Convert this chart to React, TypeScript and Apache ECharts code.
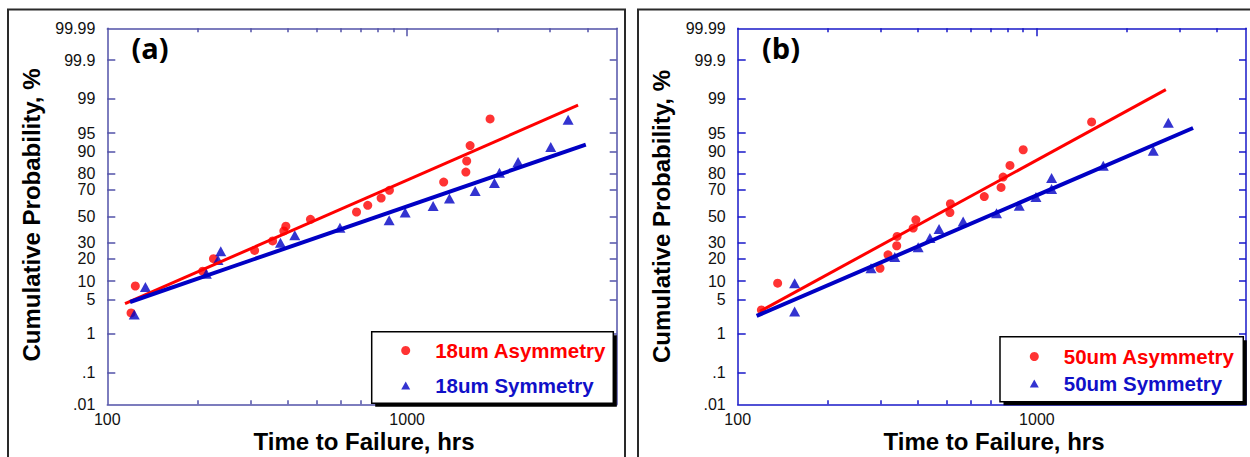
import { useEffect, useRef } from 'react';
import * as echarts from 'echarts';

// ---------- data ----------
const xRange = [100, 5000];
const xMinorTicks = [200, 300, 400, 500, 600, 700, 800, 900, 2000, 3000, 4000];
const xMajorTicks = [1000];
const xTickLabels = [100, 1000];
const yTickValues = [0.01, 0.1, 1, 5, 10, 20, 30, 50, 70, 80, 90, 95, 99, 99.9, 99.99];
const yTickLabels = ['.01', '.1', '1', '5', '10', '20', '30', '50', '70', '80', '90', '95', '99', '99.9', '99.99'];

// panel (a)
const a18AsymTime = [120, 124, 208, 226, 310, 356, 388, 394, 476, 678, 739, 819, 873, 1324, 1570, 1580, 1622, 1891];
const a18AsymProb = [2.8, 8.4, 13.9, 20.1, 25.0, 31.3, 38.6, 42.2, 47.6, 53.4, 58.6, 64.1, 69.6, 75.1, 80.9, 86.3, 91.9, 97.3];
const a18SymTime = [123, 134, 214, 234, 239, 378, 422, 597, 871, 985, 1221, 1384, 1686, 1955, 2032, 2344, 3013, 3443];
const a18SymProb = [2.6, 8.1, 12.8, 19.4, 24.4, 30.1, 35.3, 41.1, 46.8, 52.9, 58.1, 63.7, 69.2, 74.5, 80.6, 85.9, 91.5, 97.2];
const a18AsymFitTime = [114.6, 3716];
const a18AsymFitProb = [4.2, 98.6];
const a18SymFitTime = [119.1, 3944];
const a18SymFitProb = [4.5, 92.2];

// panel (b)
const b50AsymTime = [120, 136, 299, 318, 340, 341, 386, 394, 512, 514, 667, 759, 771, 813, 900, 1524];
const b50AsymProb = [3.2, 9.3, 15.2, 22.3, 28.0, 34.5, 40.8, 47.2, 53.0, 59.8, 65.2, 71.6, 78.1, 84.3, 90.6, 96.9];
const b50SymTime = [155, 155, 279, 335, 401, 439, 471, 567, 733, 873, 993, 1120, 1120, 1667, 2449, 2750];
const b50SymProb = [3.0, 9.3, 15.2, 21.0, 27.1, 33.3, 40.0, 45.9, 52.5, 58.2, 64.8, 70.5, 77.5, 84.1, 90.3, 96.8];
const b50AsymFitTime = [118.7, 2698];
const b50AsymFitProb = [3.0, 99.39];
const b50SymFitTime = [115.7, 3327];
const b50SymFitProb = [2.44, 95.97];

// ---------- helpers ----------
function probit(p: number): number {
  const a = [-3.969683028665376e1, 2.209460984245205e2, -2.759285104469687e2, 1.38357751867269e2, -3.066479806614716e1, 2.506628277459239];
  const b = [-5.447609879822406e1, 1.615858368580409e2, -1.556989798598866e2, 6.680131188771972e1, -1.328068155288572e1];
  const c = [-7.784894002430293e-3, -3.223964580411365e-1, -2.400758277161838, -2.549732539343734, 4.374664141464968, 2.938163982698783];
  const d = [7.784695709041462e-3, 3.224671290700398e-1, 2.445134137142996, 3.754408661907416];
  const pl = 0.02425;
  if (p < pl) {
    const q = Math.sqrt(-2 * Math.log(p));
    return (((((c[0] * q + c[1]) * q + c[2]) * q + c[3]) * q + c[4]) * q + c[5]) / ((((d[0] * q + d[1]) * q + d[2]) * q + d[3]) * q + 1);
  }
  if (p <= 1 - pl) {
    const q = p - 0.5;
    const r = q * q;
    return ((((((a[0] * r + a[1]) * r + a[2]) * r + a[3]) * r + a[4]) * r + a[5]) * q) / (((((b[0] * r + b[1]) * r + b[2]) * r + b[3]) * r + b[4]) * r + 1);
  }
  const q = Math.sqrt(-2 * Math.log(1 - p));
  return -(((((c[0] * q + c[1]) * q + c[2]) * q + c[3]) * q + c[4]) * q + c[5]) / ((((d[0] * q + d[1]) * q + d[2]) * q + d[3]) * q + 1);
}

const FONT = '"Liberation Sans", Arial, sans-serif';
const yZ = yTickValues.map((v) => probit(v / 100));
const yMin = yZ[0];
const yMax = yZ[yZ.length - 1];
const xMin = Math.log10(xRange[0]);
const xMax = Math.log10(xRange[1]);

function pts(times: number[], probs: number[]) {
  return times.map((t, i) => [Math.log10(t), probit(probs[i] / 100)]);
}

function yLabel(v: number) {
  const i = yZ.findIndex((z) => Math.abs(z - v) < 1e-4);
  return i >= 0 ? yTickLabels[i] : '';
}

function buildAxes(gridIndex: number, axisColor: string) {
  const line = { show: true, onZero: false, lineStyle: { color: axisColor, width: 1.5 } };
  const noLine = { show: false, onZero: false };
  const tickStyle = { color: axisColor, width: 1.5 };
  const common = { type: 'value', gridIndex, min: xMin, max: xMax, splitLine: { show: false } };
  const xAxes = [
    {
      ...common,
      position: 'bottom',
      axisLine: line,
      axisTick: { show: true, inside: true, length: 4, customValues: xMinorTicks.map(Math.log10), lineStyle: tickStyle },
      axisLabel: {
        show: true,
        customValues: xTickLabels.map(Math.log10),
        formatter: (v: number) => String(Math.round(Math.pow(10, v))),
        margin: 7,
        fontSize: 16,
        fontFamily: FONT,
        color: '#111',
      },
    },
    {
      ...common,
      position: 'bottom',
      axisLine: noLine,
      axisTick: { show: true, inside: true, length: 8, customValues: xMajorTicks.map(Math.log10), lineStyle: tickStyle },
      axisLabel: { show: false },
    },
    {
      ...common,
      position: 'top',
      axisLine: line,
      axisTick: { show: true, inside: true, length: 4, customValues: xMinorTicks.map(Math.log10), lineStyle: tickStyle },
      axisLabel: { show: false },
    },
    {
      ...common,
      position: 'top',
      axisLine: noLine,
      axisTick: { show: true, inside: true, length: 8, customValues: xMajorTicks.map(Math.log10), lineStyle: tickStyle },
      axisLabel: { show: false },
    },
  ];
  const yCommon = { type: 'value', gridIndex, min: yMin, max: yMax, splitLine: { show: false } };
  const innerZ = yZ.slice(1, yZ.length - 1);
  const yAxes = [
    {
      ...yCommon,
      position: 'left',
      axisLine: line,
      axisTick: { show: true, inside: true, length: 8, customValues: innerZ, lineStyle: tickStyle },
      axisLabel: { show: true, customValues: yZ, formatter: yLabel, margin: 12, fontSize: 16, fontFamily: FONT, color: '#111' },
    },
    {
      ...yCommon,
      position: 'right',
      axisLine: line,
      axisTick: { show: true, inside: true, length: 7, customValues: innerZ, lineStyle: tickStyle },
      axisLabel: { show: false },
    },
  ];
  return { xAxes, yAxes };
}

const RED = '#ff0000';
const BLUE = '#0000c4';
const TRI_ICON = 'path://M5,0L10,9L0,9Z';

function buildSeries(
  xIdx: number,
  yIdx: number,
  asymName: string,
  symName: string,
  asym: number[][],
  sym: number[][],
  asymFit: number[][],
  symFit: number[][]
) {
  return [
    { name: asymName, type: 'scatter', xAxisIndex: xIdx, yAxisIndex: yIdx, data: asym, symbol: 'circle', symbolSize: 9, itemStyle: { color: RED }, z: 2 },
    { name: symName, type: 'scatter', xAxisIndex: xIdx, yAxisIndex: yIdx, data: sym, symbol: 'triangle', symbolSize: [11, 10], itemStyle: { color: BLUE }, z: 2 },
    { name: asymName + ' fit', type: 'line', xAxisIndex: xIdx, yAxisIndex: yIdx, data: asymFit, showSymbol: false, symbol: 'none', lineStyle: { color: RED, width: 3 }, itemStyle: { color: RED }, z: 3 },
    { name: symName + ' fit', type: 'line', xAxisIndex: xIdx, yAxisIndex: yIdx, data: symFit, showSymbol: false, symbol: 'none', lineStyle: { color: BLUE, width: 4 }, itemStyle: { color: BLUE }, z: 3 },
  ];
}

function legend(iconCenterX: number, top: number, gap: number, asymName: string, symName: string) {
  return {
    show: true,
    orient: 'vertical',
    left: iconCenterX - 4.5,
    top,
    padding: 0,
    itemGap: gap,
    itemWidth: 9,
    itemHeight: 9,
    symbolKeepAspect: true,
    z: 10,
    formatter: (name: string) => '{sp| }' + name,
    textStyle: { fontSize: 20.5, fontWeight: 'bold', fontFamily: FONT, rich: { sp: { width: 20 } } },
    data: [
      { name: asymName, icon: 'circle', textStyle: { color: RED } },
      { name: symName, icon: TRI_ICON, textStyle: { color: '#1010c8' } },
    ],
  };
}

function titleText(x: number, y: number, text: string, rotation = 0) {
  return {
    type: 'text',
    x,
    y,
    rotation,
    z: 5,
    style: { text, fontSize: 24, fontWeight: 'bold', fontFamily: FONT, fill: '#000', align: 'center', verticalAlign: 'middle' },
  };
}

function panelLabel(x: number, y: number, text: string) {
  return {
    type: 'text',
    x,
    y,
    z: 5,
    style: { text, fontSize: 29, fontWeight: 'bold', fontFamily: '"Open Sans", sans-serif', fill: '#000', align: 'center', verticalAlign: 'middle' },
  };
}

function legendBox(x: number, y: number, w: number, h: number) {
  return [
    { type: 'rect', z: 8, shape: { x: x + 3.5, y: y + 3.5, width: w, height: h }, style: { fill: '#000' } },
    { type: 'rect', z: 8, shape: { x, y, width: w, height: h }, style: { fill: '#fff', stroke: '#000', lineWidth: 1.5 } },
  ];
}

export default function App() {
  const ref = useRef<HTMLDivElement>(null);
  useEffect(() => {
    const chart = echarts.init(ref.current!, null, { renderer: 'svg', width: 1250, height: 457 });
    const A = buildAxes(0, '#5252a8');
    const B = buildAxes(1, '#1818c8');
    const option = {
      animation: false,
      backgroundColor: '#fff',
      grid: [
        { left: 107.3, top: 28.3, width: 509.4, height: 376, containLabel: false, outerBoundsMode: 'none' },
        { left: 737.7, top: 28.3, width: 508.3, height: 376, containLabel: false, outerBoundsMode: 'none' },
      ],
      xAxis: [...A.xAxes, ...B.xAxes],
      yAxis: [...A.yAxes, ...B.yAxes],
      legend: [
        legend(405.7, 340, 14, '18um Asymmetry', '18um Symmetry'),
        legend(1034.3, 346, 6, '50um Asymmetry', '50um Symmetry'),
      ],
      series: [
        ...buildSeries(0, 0, '18um Asymmetry', '18um Symmetry', pts(a18AsymTime, a18AsymProb), pts(a18SymTime, a18SymProb), pts(a18AsymFitTime, a18AsymFitProb), pts(a18SymFitTime, a18SymFitProb)),
        ...buildSeries(4, 2, '50um Asymmetry', '50um Symmetry', pts(b50AsymTime, b50AsymProb), pts(b50SymTime, b50SymProb), pts(b50AsymFitTime, b50AsymFitProb), pts(b50SymFitTime, b50SymFitProb)),
      ],
      graphic: [
        { type: 'rect', z: 0, shape: { x: 8, y: 9.5, width: 617, height: 480 }, style: { fill: 'none', stroke: '#2a2a2a', lineWidth: 2 } },
        { type: 'rect', z: 0, shape: { x: 638, y: 9.5, width: 640, height: 480 }, style: { fill: 'none', stroke: '#2a2a2a', lineWidth: 2 } },
        panelLabel(150, 47.5, '(a)'),
        panelLabel(781, 47.5, '(b)'),
        titleText(31.5, 215, 'Cumulative Probability, %', Math.PI / 2),
        titleText(661, 216.5, 'Cumulative Probability, %', Math.PI / 2),
        titleText(364, 441, 'Time to Failure, hrs'),
        titleText(994, 441, 'Time to Failure, hrs'),
        ...legendBox(371.7, 331.7, 241.6, 71.6),
        ...legendBox(1000, 336.7, 243.3, 65),
      ],
    };
    chart.setOption(option as any);
    return () => chart.dispose();
  }, []);
  return <div ref={ref} style={{ position: 'fixed', left: 0, top: 0, width: 1250, height: 457, background: '#fff' }} />;
}
